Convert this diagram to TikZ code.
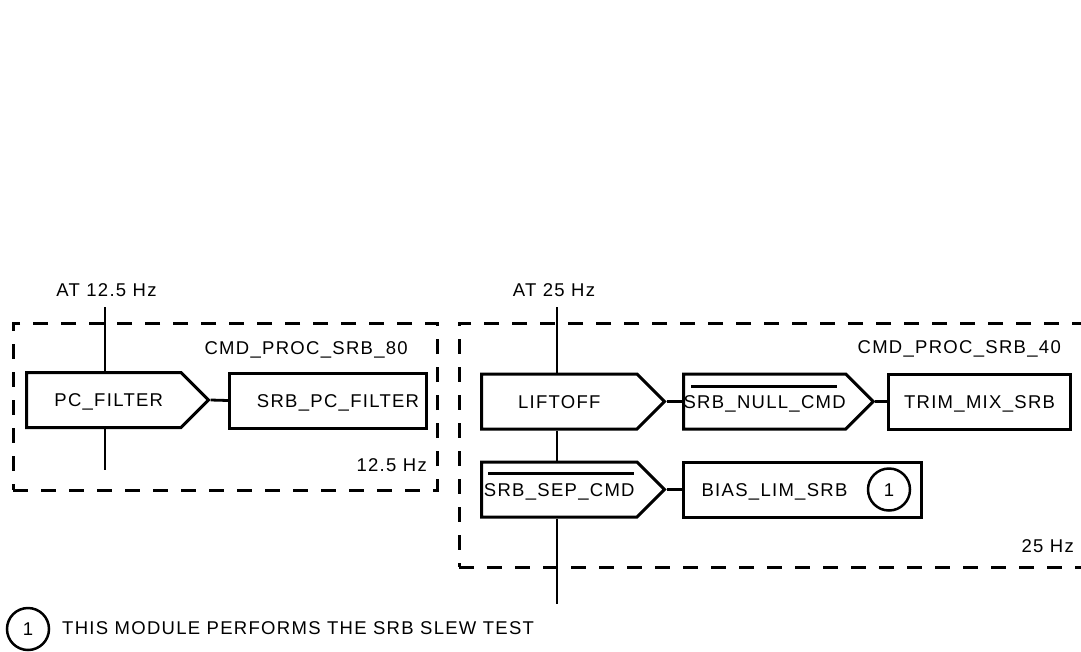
\documentclass[tikz,border=0pt]{standalone}
\usepackage{fontspec}
\setmainfont{Liberation Sans}[LetterSpace=7]
\usetikzlibrary{positioning,shapes.symbols,calc}

\begin{document}
\begin{tikzpicture}[x=1pt,y=-1pt,
  every node/.style={font=\fontsize{18.5}{22}\selectfont,inner sep=0pt,text height=13.2pt,text depth=0pt},
  module/.style={draw,line width=3pt,minimum height=55pt},
  gate/.style={module,signal,signal to=east,signal pointer angle=90},
  task/.style={draw,line width=3pt,dash pattern=on 15pt off 13pt},
  wire/.style={line width=2.8pt},
  clock/.style={line width=2.3pt},
  bar/.style={line width=3pt},
  note/.style={draw,circle,line width=2.5pt,minimum size=42pt}]
\useasboundingbox (0,0) rectangle (1081,651);

\node[task,minimum width=424pt,minimum height=167pt] (proc80) at (225,406.5) {};
\node[anchor=east] (name80) at (408,348) {CMD\_PROC\_SRB\_80};
\node[anchor=east] (rate80) at (427,465) {12.5 Hz};
\node (at80) at (106.5,290) {AT 12.5 Hz};
\coordinate (in80) at (105,307);
\coordinate (out80) at (105,470);
\node[gate,minimum width=182pt,anchor=west] (pcfilter) at (25,400) {\hspace*{10pt}PC\_FILTER};
\node[module,minimum width=197pt,anchor=west] (srbpc) at (228,400.5) {\hspace*{20pt}SRB\_PC\_FILTER};
\draw[clock] (in80) -- (in80 |- pcfilter.north);
\draw[clock] (pcfilter.south -| in80) -- (out80);
\draw[wire] (pcfilter.east) -- (srbpc.west);

\node[task,minimum width=640pt,minimum height=244pt] (proc40) at (779,445) {};
\node[anchor=east] (name40) at (1061,347) {CMD\_PROC\_SRB\_40};
\node[anchor=east] (rate40) at (1074,546) {25 Hz};
\node (at40) at (554,290) {AT 25 Hz};
\coordinate (in40) at (557,307);
\coordinate (out40) at (557,604);
\node[gate,minimum width=183pt,anchor=west] (liftoff) at (480,401.5) {LIFTOFF};
\node[gate,minimum width=185pt,anchor=west] (nullcmd) at (682,401.5) {SRB\_NULL\_CMD};
\node[module,minimum width=182pt,anchor=west] (trimmix) at (887,401.5) {TRIM\_MIX\_SRB};
\node[gate,minimum width=183pt,anchor=west] (sepcmd) at (480,489.5) {SRB\_SEP\_CMD};
\node[module,minimum width=238pt,anchor=west] (biaslim) at (682,489.5) {BIAS\_LIM\_SRB\hspace*{56pt}};
\node[note] (biasnote) at (889,489.5) {1};
\draw[clock] (in40) -- (in40 |- liftoff.north);
\draw[clock] (liftoff.south -| in40) -- (sepcmd.north -| in40);
\draw[clock] (sepcmd.south -| in40) -- (out40);
\draw[wire] (liftoff.east) -- (nullcmd.west);
\draw[wire] (nullcmd.east) -- (trimmix.west);
\draw[wire] (sepcmd.east) -- (biaslim.west);
\draw[bar] ([xshift=9pt,yshift=15.5pt]nullcmd.west) -- ++(146,0);
\draw[bar] ([xshift=8pt,yshift=16.5pt]sepcmd.west) -- ++(146,0);

\node[note] (key) at (28,629) {1};
\node[anchor=west] (keytext) at (62,628) {THIS MODULE PERFORMS THE SRB SLEW TEST};
\end{tikzpicture}
\end{document}
